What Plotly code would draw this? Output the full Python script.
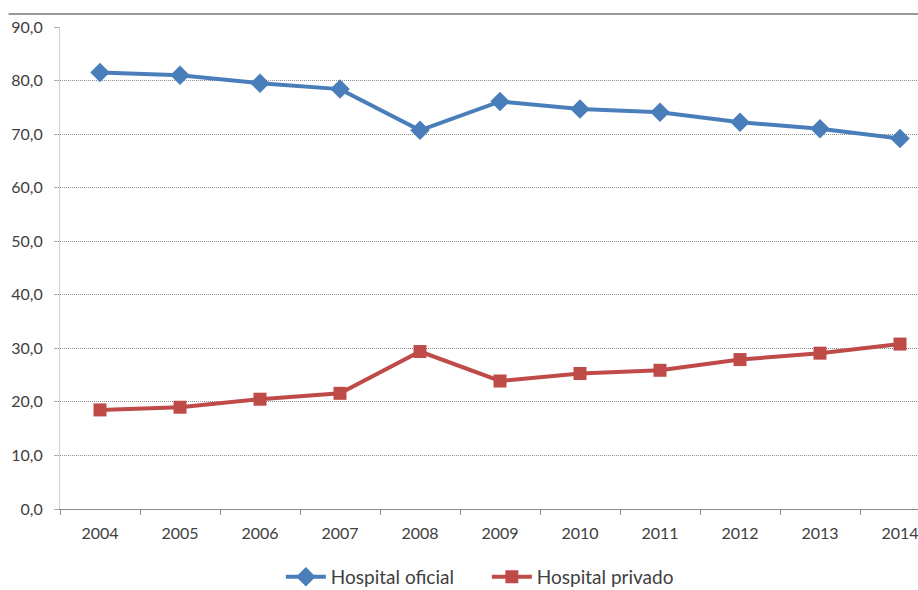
import plotly.graph_objects as go

# Share of hospital discharges by type of hospital, 2004-2014 (%)
years = ["2004", "2005", "2006", "2007", "2008", "2009", "2010", "2011", "2012", "2013", "2014"]
oficial = [81.5, 81.0, 79.5, 78.4, 70.7, 76.1, 74.7, 74.1, 72.2, 71.0, 69.2]
privado = [18.5, 19.0, 20.5, 21.6, 29.4, 23.9, 25.3, 25.9, 27.9, 29.1, 30.8]
y_ticks = [0, 10, 20, 30, 40, 50, 60, 70, 80, 90]

BLUE = "#4A7EBB"
RED = "#BE4B48"
FONT = "Lato"
TEXT = "#404040"

fig = go.Figure()
fig.add_trace(go.Scatter(
    x=years, y=oficial, name="Hospital oficial", mode="lines+markers",
    line=dict(color=BLUE, width=4),
    marker=dict(symbol="diamond", size=15, color=BLUE),
))
fig.add_trace(go.Scatter(
    x=years, y=privado, name="Hospital privado", mode="lines+markers",
    line=dict(color=RED, width=4),
    marker=dict(symbol="square", size=13, color=RED),
))

fig.update_layout(
    width=918, height=590,
    margin=dict(l=60, r=0, t=27, b=81, autoexpand=False),
    paper_bgcolor="white", plot_bgcolor="white",
    separators=",.",
    font=dict(family=FONT, color=TEXT, size=16),
    showlegend=True,
    legend=dict(
        orientation="h", x=0.4975, y=-0.141, xanchor="center", yanchor="middle",
        font=dict(size=19, color=TEXT), itemwidth=40,
        entrywidth=151, entrywidthmode="pixels",
    ),
    xaxis=dict(
        type="category", range=[-0.5, 10.225], automargin=False,
        showgrid=False, showline=True, linecolor="#8c8c8c", linewidth=1,
        ticks="outside", ticklen=5, tickcolor="#8c8c8c", tickson="boundaries",
        ticklabelstandoff=10, tickfont=dict(size=16, color=TEXT),
    ),
    yaxis=dict(
        range=[0, 90], tickvals=y_ticks, tickformat=".1f", automargin=False,
        showgrid=True, gridcolor="#8c8c8c", griddash="1px,1px", gridwidth=1,
        zeroline=False, showline=True, linecolor="#d0d0d0", linewidth=1,
        ticks="outside", ticklen=5, tickcolor="#b0b0b0",
        ticklabelstandoff=8, tickfont=dict(size=16, color=TEXT),
    ),
    shapes=[dict(
        type="line", xref="paper", yref="paper",
        x0=-0.06, x1=1, y0=1.027, y1=1.027,
        line=dict(color="#999999", width=2),
    )],
)

fig.write_html("out.html")
